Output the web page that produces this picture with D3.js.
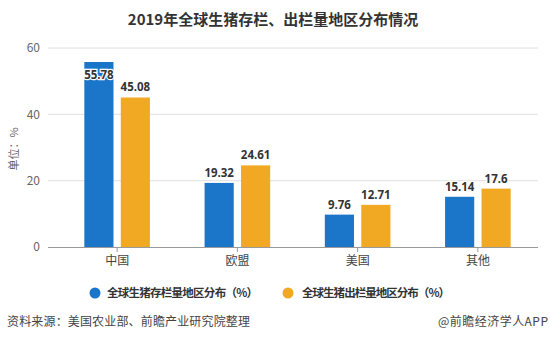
<!DOCTYPE html>
<html>
<head>
<meta charset="utf-8">
<script src="https://cdn.jsdelivr.net/npm/d3@7/dist/d3.min.js"></script>
<style>
  html, body { margin: 0; padding: 0; background: #fff; }
  svg { display: block; font-family: "Noto Sans CJK SC", "Noto Sans", sans-serif; }
</style>
</head>
<body>
<svg id="chart" width="550" height="341"></svg>
<script>
// Data
const regions = ["中国", "欧盟", "美国", "其他"];
const stockShare = [55.78, 19.32, 9.76, 15.14];     // 存栏量分布 (%)
const slaughterShare = [45.08, 24.61, 12.71, 17.6]; // 出栏量分布 (%)
const seriesNames = ["全球生猪存栏量地区分布（%）", "全球生猪出栏量地区分布（%）"];
const yTicks = [0, 20, 40, 60];

const colors = ["#1b76c9", "#f1a924"];

const svg = d3.select("#chart");

// Scales
const x = d3.scaleBand().domain(regions).range([57, 538]);
const y = d3.scaleLinear().domain([0, 60]).range([247, 48]);
const inner = d3.scaleBand().domain([0, 1]).range([0, x.bandwidth()]).paddingInner(0.2).paddingOuter(0.75);

// Title
svg.append("text")
  .attr("x", 273).attr("y", 25)
  .attr("text-anchor", "middle")
  .attr("font-size", 15).attr("font-weight", "bold").attr("fill", "#333")
  .text("2019年全球生猪存栏、出栏量地区分布情况");

// Gridlines
svg.append("g").selectAll("line")
  .data(yTicks.filter(d => d > 0))
  .join("line")
  .attr("x1", 48).attr("x2", 538)
  .attr("y1", d => y(d)).attr("y2", d => y(d))
  .attr("stroke", "#e0e0e0").attr("stroke-width", 1);

// Y axis labels
const yAxis = d3.axisLeft(y).tickValues(yTicks).tickSize(0).tickPadding(8);
svg.append("g")
  .attr("transform", "translate(48,0)")
  .call(yAxis)
  .call(g => g.select(".domain").remove())
  .call(g => g.selectAll("text").attr("font-size", 12).attr("fill", "#666")
    .attr("font-family", "'Noto Sans CJK SC', 'Noto Sans', sans-serif"));

// Y axis unit
svg.append("text")
  .attr("transform", "translate(18,149) rotate(-90)")
  .attr("text-anchor", "middle")
  .attr("font-size", 11).attr("fill", "#666")
  .text("单位：%");

// Bars
const series = [stockShare, slaughterShare];
series.forEach((vals, si) => {
  const g = svg.append("g");
  g.selectAll("rect")
    .data(regions.map((r, i) => ({ r, v: vals[i] })))
    .join("rect")
    .attr("x", d => x(d.r) + inner(si))
    .attr("width", inner.bandwidth())
    .attr("y", d => y(d.v))
    .attr("height", d => y(0) - y(d.v))
    .attr("fill", colors[si]);
});

// Value labels
series.forEach((vals, si) => {
  svg.append("g").selectAll("text")
    .data(regions.map((r, i) => ({ r, v: vals[i] })))
    .join("text")
    .attr("x", d => x(d.r) + inner(si) + inner.bandwidth() / 2)
    .attr("y", d => {
      const top = y(d.v);
      // the tallest bar would run into the title area, so its label sits inside
      return top - 6 < 66 ? top + 17 : top - 6;
    })
    .attr("text-anchor", "middle")
    .attr("font-size", 11.5).attr("font-weight", "bold")
    .attr("fill", "#333")
    .attr("stroke", "#fff").attr("stroke-width", 2.5)
    .attr("paint-order", "stroke")
    .attr("font-family", "'Noto Sans', 'DejaVu Sans', sans-serif")
    .text(d => d.v);
});

// X axis
const xAxis = d3.axisBottom(x).tickSize(5).tickPadding(4);
svg.append("g")
  .attr("transform", `translate(0,${y(0)})`)
  .call(xAxis)
  .call(g => g.select(".domain").attr("d", "M48,0.5H538").attr("stroke", "#9a9a9a"))
  .call(g => g.selectAll(".tick line").attr("stroke", "#9a9a9a"))
  .call(g => g.selectAll("text").attr("font-size", 12).attr("fill", "#444")
    .attr("font-family", "'Noto Sans CJK SC', sans-serif"));

// Legend
const legendPos = [{ cx: 95, tx: 107, w: 151 }, { cx: 288, tx: 302, w: 148 }];
const legend = svg.append("g");
seriesNames.forEach((name, i) => {
  legend.append("circle")
    .attr("cx", legendPos[i].cx).attr("cy", 293).attr("r", 5.5)
    .attr("fill", colors[i]);
  legend.append("text")
    .attr("x", legendPos[i].tx).attr("y", 297)
    .attr("font-size", 11.5).attr("font-weight", "bold").attr("fill", "#333")
    .attr("textLength", legendPos[i].w).attr("lengthAdjust", "spacing")
    .text(name);
});

// Footer
svg.append("text")
  .attr("x", 7).attr("y", 326)
  .attr("font-size", 12).attr("fill", "#444")
  .attr("textLength", 243).attr("lengthAdjust", "spacing")
  .text("资料来源：美国农业部、前瞻产业研究院整理");
svg.append("text")
  .attr("x", 438).attr("y", 326)
  .attr("font-size", 12).attr("fill", "#444")
  .attr("textLength", 110).attr("lengthAdjust", "spacing")
  .text("@前瞻经济学人APP");
</script>
</body>
</html>
